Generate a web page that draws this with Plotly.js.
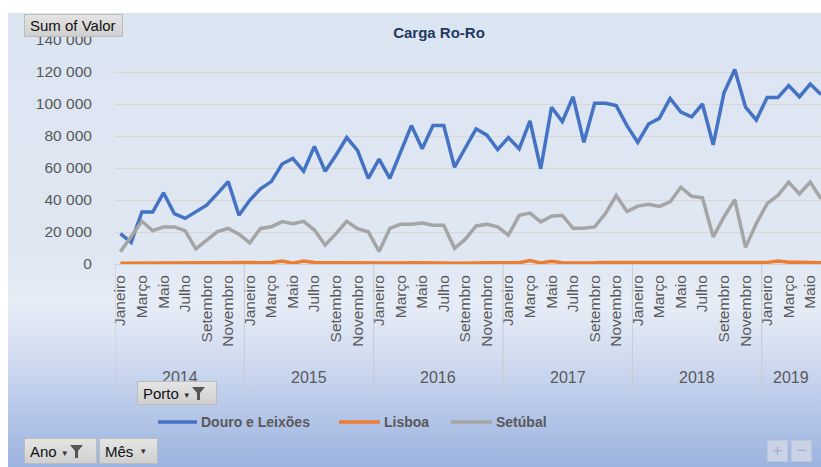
<!DOCTYPE html>
<html><head><meta charset="utf-8">
<script src="https://cdn.plot.ly/plotly-3.0.1.min.js"></script>
<style>
html,body{margin:0;padding:0;width:821px;height:467px;overflow:hidden;background:#fff;}
#bg{position:absolute;left:8px;top:13px;width:813px;height:454px;
 background:linear-gradient(to bottom,#dbe5f1 0%,#dfe7f2 54%,#e7edf7 64%,#d5dff1 74%,#baCaea 86%,#9cb3df 100%);}
#chart{position:absolute;left:0;top:0;width:821px;height:467px;}
.btn{position:absolute;box-sizing:border-box;background:linear-gradient(#e4e4e4,#d0d0d0);border:1px solid #bcbcbc;
 font-family:"Liberation Sans",Arial,sans-serif;font-size:15px;color:#111;display:flex;align-items:center;padding-left:5px;white-space:nowrap;}
.btn .dd{font-size:8px;margin-left:4px;margin-top:5px;color:#333;}
.btn svg{margin-left:1px;}
.pm{position:absolute;box-sizing:border-box;background:#cad3e6;border:1px solid #bcc6dd;color:#a3adc3;
 font-family:"Liberation Sans",Arial,sans-serif;font-size:17px;display:flex;align-items:center;justify-content:center;}
</style></head>
<body>
<div id="bg"></div>
<div id="chart"></div>
<div class="btn" style="left:24px;top:14px;width:99px;height:23px;">Sum of Valor</div>
<div class="btn" style="left:137px;top:381px;width:80px;height:24px;">Porto<span class="dd">&#9660;</span><svg width="13" height="15" viewBox="0 0 13 15"><polygon points="0,1 13,1 8,7 8,14 5,14 5,7" fill="#555"/></svg></div>
<div class="btn" style="left:24px;top:438px;width:73px;height:26px;">Ano<span class="dd">&#9660;</span><svg width="13" height="15" viewBox="0 0 13 15"><polygon points="0,1 13,1 8,7 8,14 5,14 5,7" fill="#555"/></svg></div>
<div class="btn" style="left:99px;top:438px;width:59px;height:26px;">Mês<span class="dd" style="margin-left:6px;margin-top:0">&#9660;</span></div>
<div class="pm" style="left:767px;top:440px;width:21px;height:22px;">+</div>
<div class="pm" style="left:791px;top:440px;width:21px;height:22px;">&minus;</div>
<script>
const years = ['2014','2015','2016','2017','2018','2019'];
const monthNames = ['Janeiro','Fevereiro','Março','Abril','Maio','Junho','Julho','Agosto','Setembro','Outubro','Novembro','Dezembro'];
const seriesNames = ['Douro e Leixões','Lisboa','Setúbal'];
const douro = [19000,13500,32500,32500,44500,31500,28500,32500,36800,44000,51500,30500,
 39800,47000,51500,62500,66000,58000,73500,58000,68000,79000,71000,53500,
 65500,53500,70000,86500,72000,86500,86500,60500,72500,84500,80500,71500,
 79000,72000,89500,59500,98000,89000,104500,76000,100500,100500,99000,86500,
 76000,87500,91000,103500,95000,92000,100000,74500,107000,121500,98000,90000,
 104000,104000,111500,104500,112500,106000];
const lisboa = [500,500,600,600,600,600,600,600,600,600,600,600,
 600,600,900,1900,500,1800,900,800,700,700,600,600,
 600,700,600,800,900,700,600,500,400,700,800,900,
 1200,800,2100,600,1700,800,700,600,800,1000,1000,800,
 800,900,900,1000,1000,1000,1000,1000,1000,1000,900,600,
 1000,1900,1100,1100,1000,800];
const setubal = [7700,17000,26700,20800,23200,23200,20800,9500,15000,20200,22200,18600,
 13200,22200,23300,26500,25200,26700,21200,11800,19000,26700,22100,20100,
 7800,22200,24800,24800,25600,24200,24200,9800,15500,23800,24800,23200,
 18000,30400,31800,26300,29800,30400,22300,22300,23200,31500,42800,32800,
 36200,37300,36000,38800,48000,42300,41400,17000,29500,40200,10400,25300,
 37700,42800,51200,43800,51200,40800];
const colors = ['#4472C4','#ED7D31','#A5A5A5'];

const n = douro.length;
const xIdx = Array.from({length:n},(_,i)=>i);
const tickvals = xIdx.filter(i=>i%2===0);
const ticktext = tickvals.map(i=>monthNames[i%12]);

const traces = [douro,lisboa,setubal].map((v,k)=>({
  type:'scatter',mode:'lines',x:xIdx,y:v,name:seriesNames[k],
  line:{color:colors[k],width:3.5},showlegend:false,hoverinfo:'skip'
}));

const xMax = 65;
const plotL=115, plotW=706, plotT=40, plotH=224;
const py = p => (plotT+plotH-p)/plotH;   // pixel y -> paper y
const px = p => (p-plotL)/plotW;         // pixel x -> paper x

const shapes = [];
const annotations = [];
years.forEach((yr,j)=>{
  const start = j*12-0.5;
  shapes.push({type:'line',xref:'x',yref:'paper',x0:start,x1:start,y0:0,y1:py(388),line:{color:'#c5cad2',width:1}});
  const end = Math.min(start+12, xMax);
  annotations.push({xref:'x',yref:'paper',x:(start+end)/2,y:py(377),text:yr,showarrow:false,
    font:{family:'Liberation Sans, Arial',size:16,color:'#595959'},xanchor:'center',yanchor:'middle'});
});
// legend
const legPos = [[158,197,199],[339,380,382],[451,492,494]];
seriesNames.forEach((nm,k)=>{
  const [a,b,t] = legPos[k];
  shapes.push({type:'line',xref:'paper',yref:'paper',x0:px(a),x1:px(b),y0:py(422),y1:py(422),line:{color:colors[k],width:3.5}});
  annotations.push({xref:'paper',yref:'paper',x:px(t),y:py(422),text:'<b>'+nm+'</b>',showarrow:false,xanchor:'left',yanchor:'middle',
    font:{family:'Liberation Sans, Arial, sans-serif',size:14,color:'#595959'}});
});

const layout = {
  width:821,height:467,
  margin:{l:plotL,r:821-plotL-plotW,t:plotT,b:467-plotT-plotH,pad:0},
  paper_bgcolor:'rgba(0,0,0,0)',plot_bgcolor:'rgba(0,0,0,0)',
  separators:', ',
  title:{text:'<b>Carga Ro-Ro</b>',x:439/821,xanchor:'center',y:1-33/467,yanchor:'middle',
    font:{family:'Liberation Sans, Arial, sans-serif',size:15,color:'#1f3864'}},
  xaxis:{range:[-0.5,xMax],tickvals:tickvals,ticktext:ticktext,tickangle:-90,
    tickfont:{family:'Liberation Sans, Arial',size:15.5,color:'#595959'},
    showgrid:false,zeroline:false,showline:true,linecolor:'#d0d4da',linewidth:1,
    ticks:'outside',ticklen:4,tickcolor:'rgba(0,0,0,0)',fixedrange:true},
  yaxis:{range:[0,140000],dtick:20000,tickformat:',d',
    tickfont:{family:'Liberation Sans, Arial',size:15.5,color:'#595959'},
    showgrid:true,gridcolor:'#d9d6d3',gridwidth:1,zeroline:false,showline:false,
    ticks:'outside',ticklen:19,tickcolor:'rgba(0,0,0,0)',fixedrange:true},
  shapes:shapes,annotations:annotations,showlegend:false
};
Plotly.newPlot('chart',traces,layout,{displayModeBar:false,staticPlot:true});
</script>
</body></html>
